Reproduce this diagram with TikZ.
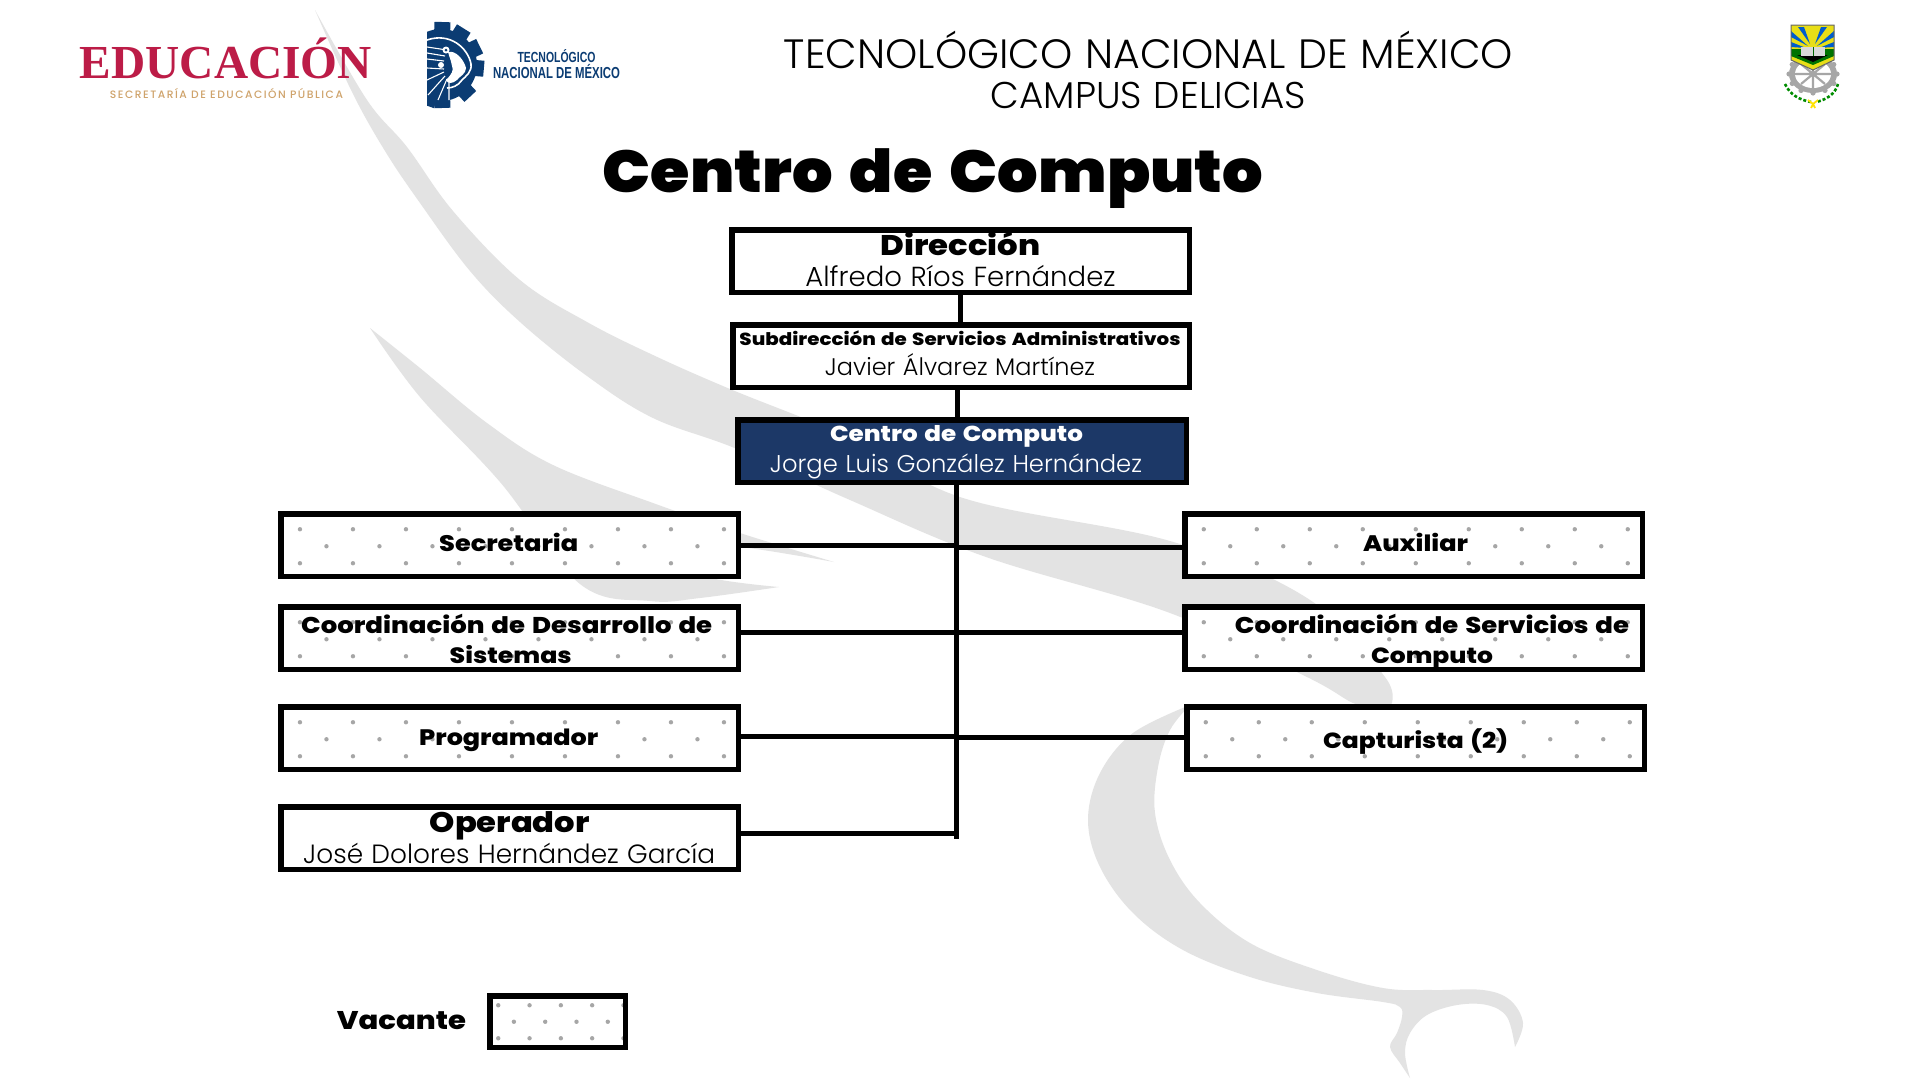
\documentclass[tikz,border=0pt]{standalone}
\usepackage{fontspec}
\usepackage{graphicx}
\setmainfont{Poppins}
\newfontfamily\hv{Poppins Black}[WordSpace=1.6]
\newfontfamily\xb{Poppins ExtraBold}[WordSpace=1.4]
\newfontfamily\lt{Poppins Light}[WordSpace=1.15]
\newfontfamily\ser{Liberation Serif}
\newfontfamily\ars{Liberation Sans}
\definecolor{wm}{HTML}{E3E3E3}
\definecolor{navy}{HTML}{1C3867}
\definecolor{dotc}{HTML}{A6A6A6}
\definecolor{edu}{HTML}{BC1C47}
\definecolor{gold}{HTML}{CFA36B}
\definecolor{tec}{HTML}{0B3C73}
% dx = shift of the centre, dy = height of the baseline over the node centre
\newcommand\putl[4]{\makebox[0pt]{\hspace{#1pt}\hspace{#1pt}\raisebox{#2pt}[0pt][0pt]{\resizebox{#3pt}{!}{\lt{}#4}}}}
\newcommand\puth[4]{\makebox[0pt]{\hspace{#1pt}\hspace{#1pt}\raisebox{#2pt}[0pt][0pt]{\resizebox{#3pt}{!}{\scalebox{1}[0.88]{\xb{}#4}}}}}
\newcommand\dotgrid[6]{%
  \foreach \k in {1,...,#5} {
    \fill[dotc] ([shift={({#1+(\k-1)*#3},#2)}]path picture bounding box.north west) circle (2.2);
    \fill[dotc] ([shift={({#1+(\k-1)*#3},{#2+2*#4})}]path picture bounding box.north west) circle (2.2);
  }
  \foreach \k in {1,...,#6} {
    \fill[dotc] ([shift={({#1+(\k-0.5)*#3},{#2+#4})}]path picture bounding box.north west) circle (2.2);
  }}
\tikzset{
  orgbox/.style={draw=black,line width=5.5pt,fill=white,inner sep=0pt,outer sep=0pt,text=black},
  vacant/.style={orgbox,path picture={\dotgrid{19}{15.5}{53}{17}{9}{8}}},
  legendbox/.style={orgbox,path picture={\dotgrid{8.5}{9.5}{31.3}{16.5}{5}{4}}},
  link/.style={line width=5pt,black},
  txt/.style={inner sep=0pt,outer sep=0pt,anchor=base},
}
\begin{document}
\begin{tikzpicture}[x=1pt,y=-1pt]
\useasboundingbox (0,0) rectangle (1920,1080);
\fill[white] (0,0) rectangle (1920,1080);
% watermark
\fill[wm] plot[smooth,tension=0.6] coordinates {(315,10)(367,100)(407,147)(453,211)(520,280)(587,322)(653,355)(730,389)(850,438)(963,498)(1170,541)(1307,598)(1385,677)(1390,707)}
  -- plot[smooth,tension=0.6] coordinates {(1375,707)(1353,703)(1307,677)(1170,613)(986,557)(850,500)(737,449)(653,418)(587,376)(520,322)(470,271)(420,203)(385,151)(352,92)(315,10)} -- cycle;
\fill[wm] plot[smooth,tension=0.6] coordinates {(370,328)(420,368)(487,423)(553,465)(653,503)(740,533)(834,562)}
  -- plot[smooth,tension=0.6] coordinates {(834,562)(740,547)(680,547)(700,575)(779,587)}
  -- plot[smooth,tension=0.6] coordinates {(779,587)(700,598)(650,601)(580,584)(500,482)(420,397)(370,328)} -- cycle;
\fill[wm] plot[smooth,tension=0.6] coordinates {(1190,705)(1133,733)(1100,773)(1088,820)(1100,867)(1133,913)(1183,950)(1250,977)(1317,993)(1383,1002)(1400,1007)(1402,1017)(1397,1033)(1390,1047)(1400,1063)(1410,1078)}
  -- plot[smooth,tension=0.6] coordinates {(1410,1078)(1405,1053)(1410,1033)(1427,1015)(1457,1005)(1487,1005)(1507,1017)(1515,1047)}
  -- plot[smooth,tension=0.6] coordinates {(1515,1047)(1523,1023)(1510,1000)(1483,990)(1433,990)(1383,988)(1317,970)(1250,943)(1200,903)(1170,860)(1155,813)(1158,767)(1170,730)(1190,705)} -- cycle;
% Educacion logo
\node[txt,text=edu] (edulogo) at (226,78) {\resizebox{292pt}{!}{\ser\bfseries EDUCACIÓN}};
\node[txt,text=gold] (edusub) at (226.5,98) {\resizebox{233pt}{!}{\fontspec{Poppins Medium}[LetterSpace=14]SECRETARÍA DE EDUCACIÓN PÚBLICA}};
% TecNM gear
\begin{scope}
\clip (427,20) rectangle (490,110);
\fill[tec] (441,65) circle (36);
\foreach \a in {-88,-47,-5,26,58,88,130,170,210,250} {
  \fill[tec,rotate around={\a:(441,65)}] (470,57) rectangle (484,73);
}
\draw[white,line width=1.6pt] (427,40) .. controls (450,32) and (468,48) .. (471,64) .. controls (472,72) and (466,76) .. (462,80) .. controls (458,86) and (452,88) .. (447,88);
\fill[white] (448,52) .. controls (456,50) and (464,60) .. (466,68) .. controls (466,74) and (460,76) .. (457,80) .. controls (452,84) and (448,84) .. (446,80) .. controls (452,74) and (454,70) .. (452,66) .. controls (451,60) and (449,56) .. (448,52) -- cycle;
\draw[white,line width=1.1pt] (427,47)--(447,50) (427,53)--(445,56) (427,59)--(444,61)
  (444,69)--(427,68) (444,72)--(427,80) (445,76)--(428,95) (447,79)--(438,100) (449,82)--(449,100);
\fill[white] (446,50) circle (3.5);
\fill[tec] (446,50) circle (1.5);
\fill[white] (441,65) circle (3);
\end{scope}
\node[txt,text=tec] (tec1) at (556.5,62) {\resizebox{78pt}{!}{\scalebox{1}[1.4]{\ars\bfseries TECNOLÓGICO}}};
\node[txt,text=tec] (tec2) at (556.5,78) {\resizebox{127pt}{!}{\scalebox{1}[1.4]{\ars\bfseries NACIONAL DE MÉXICO}}};
% Campus emblem
\begin{scope}
\fill[black!35] (1813,74) ellipse (24 and 19);
\foreach \a in {0,30,...,330} {
  \fill[black!35] (1813,74) ++({24*cos(\a)},{19*sin(\a)}) circle (2.6);
}
\fill[white] (1813,74) ellipse (18 and 14);
\draw[black!35,line width=2.2pt] (1795,74)--(1831,74) (1813,60)--(1813,88) (1801,64)--(1825,84) (1825,64)--(1801,84);
\fill[black!35] (1813,74) circle (3);
\fill[yellow!90!black] (1791,25) -- (1834,25) -- (1834,60) -- (1813,70) -- (1791,60) -- cycle;
\fill[blue!55!cyan!80!black] (1791,31) -- (1808,46) -- (1791,37) -- cycle;
\fill[blue!55!cyan!80!black] (1834,31) -- (1817,46) -- (1834,37) -- cycle;
\fill[blue!55!cyan!80!black] (1791,42) -- (1806,48) -- (1791,47) -- cycle;
\fill[blue!55!cyan!80!black] (1834,42) -- (1819,48) -- (1834,47) -- cycle;
\fill[blue!55!cyan!80!black] (1798,27) -- (1810,44) -- (1804,27) -- cycle;
\fill[blue!55!cyan!80!black] (1827,27) -- (1815,44) -- (1821,27) -- cycle;
\fill[green!45!black] (1791,49) -- (1834,49) -- (1834,56) -- (1813,65) -- (1791,56) -- cycle;
\fill[black] (1797,55) -- (1828,55) -- (1813,62) -- cycle;
\fill[black!15] (1801,47) rectangle (1825,56);
\draw[green!40!black,line width=0.8pt] (1813,47)--(1813,56);
\draw[black!60,line width=1pt] (1791,25) -- (1834,25) -- (1834,60) -- (1813,70) -- (1791,60) -- cycle;
\draw[green!55!black,line width=2.6pt,dash pattern=on 3pt off 2pt] (1785,84) .. controls (1790,95) and (1800,100) .. (1811,102);
\draw[green!55!black,line width=2.6pt,dash pattern=on 3pt off 2pt] (1838,84) .. controls (1835,95) and (1825,100) .. (1816,102);
\draw[yellow!85!orange,line width=1.8pt] (1808,100) -- (1813,104) -- (1818,100) (1813,104) -- (1811,108) (1813,104) -- (1815,108);
\end{scope}
% headers
\node[txt] (h1) at (1148.5,68) {\resizebox{729pt}{!}{\lt TECNOLÓGICO NACIONAL DE MÉXICO}};
\node[txt] (h2) at (1148.5,108) {\resizebox{315pt}{!}{\lt CAMPUS DELICIAS}};
\node[txt] (title) at (933,192) {\resizebox{660pt}{!}{\scalebox{1}[0.93]{\hv Centro de Computo}}};
% org boxes
\node[orgbox,minimum width=457.5pt,minimum height=62.5pt] (dir) at (960.5,261) {\puth{0}{6}{160}{Dirección}\putl{0}{-25}{310}{Alfredo Ríos Fernández}};
\node[orgbox,minimum width=456.5pt,minimum height=62.5pt] (sub) at (961,356) {\puth{-1}{11}{441}{Subdirección de Servicios Administrativos}\putl{-1}{-19}{270}{Javier Álvarez Martínez}};
\node[orgbox,fill=navy,text=white,minimum width=448.5pt,minimum height=62.5pt] (cc) at (962,451) {\puth{-5.5}{10}{253}{Centro de Computo}\putl{-6}{-21}{372}{Jorge Luis González Hernández}};
\node[vacant,minimum width=457.5pt,minimum height=62.5pt] (sec) at (509.7,545) {\puth{-1}{-6}{139}{Secretaria}};
\node[vacant,minimum width=457.5pt,minimum height=62.5pt] (cds) at (509.7,638) {\puth{-3}{5}{411}{Coordinación de Desarrollo de}\puth{1}{-25}{122}{Sistemas}};
\node[vacant,minimum width=457.5pt,minimum height=62.5pt] (prog) at (509.7,738) {\puth{-1}{-7}{179}{Programador}};
\node[orgbox,minimum width=457.5pt,minimum height=62.5pt] (oper) at (509.7,838) {\puth{0}{6}{160}{Operador}\putl{-0.5}{-25}{412}{José Dolores Hernández García}};
\node[vacant,minimum width=457.5pt,minimum height=62.5pt] (aux) at (1413.5,545) {\puth{2}{-6}{105}{Auxiliar}};
\node[vacant,minimum width=457.5pt,minimum height=62.5pt] (cse) at (1413.5,638) {\puth{18.5}{5}{394}{Coordinación de Servicios de}\puth{18.5}{-25}{122}{Computo}};
\node[vacant,minimum width=457.5pt,minimum height=62.5pt] (cap) at (1415.5,738) {\puth{0}{-10}{185}{Capturista (2)}};
% legend
\node[legendbox,minimum width=135.5pt,minimum height=51.5pt] (legend) at (557.5,1021.5) {};
\node[txt] (legtxt) at (401.5,1029) {\resizebox{129pt}{!}{\scalebox{1}[0.88]{\xb Vacante}}};
% connectors
\coordinate (tb) at (956.3,839);
\coordinate (js) at (957.3,400);
\coordinate (l1) at (956.3,545);
\coordinate (l2) at (956.3,632.5);
\coordinate (l3) at (956.3,736.5);
\coordinate (l4) at (956.3,833);
\coordinate (r1) at (956.3,547);
\coordinate (r2) at (956.3,632.5);
\coordinate (r3) at (956.3,737);
\draw[link] (dir.south) -- (dir.south |- sub.north);
\draw[link] (js |- sub.south) -- (js |- cc.north);
\draw[link] ([yshift=1pt]cc.south -| tb) -- (tb);
\draw[link] (sec.east |- l1) -- (l1);
\draw[link] (cds.east |- l2) -- (l2);
\draw[link] (prog.east |- l3) -- (l3);
\draw[link] (oper.east |- l4) -- (l4);
\draw[link] (aux.west |- r1) -- (r1);
\draw[link] (cse.west |- r2) -- (r2);
\draw[link] (cap.west |- r3) -- (r3);
\end{tikzpicture}
\end{document}
